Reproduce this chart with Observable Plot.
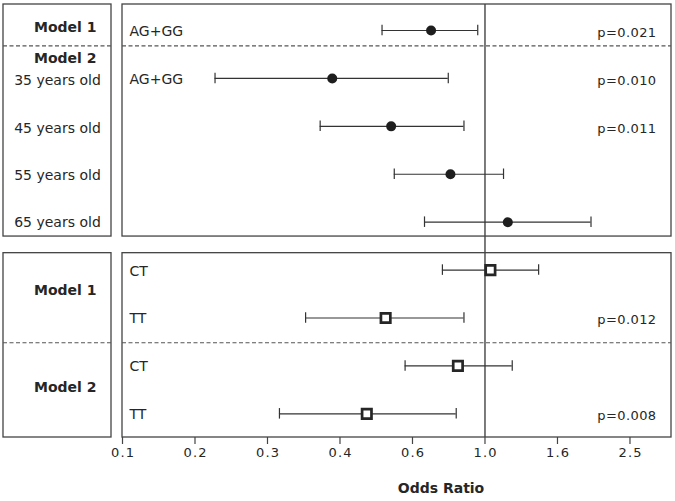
<!DOCTYPE html>
<html><head><meta charset="utf-8">
<script src="https://cdn.jsdelivr.net/npm/d3@7"></script>
<script src="https://cdn.jsdelivr.net/npm/@observablehq/plot@0.6"></script>
<style>
body{margin:0;background:#fff;}
#wrap{position:relative;width:675px;height:501px;}
#wrap svg{position:absolute;left:0;top:0;overflow:visible;}
.pval text{letter-spacing:0.4px;}
.ticklbl text{letter-spacing:1.2px;}
</style></head><body><div id="wrap"></div>
<script>
// ---- data ----
const rowLabels = ["AG+GG","AG+GG","","","","CT","TT","CT","TT"];
const oddsRatio = [0.71, 0.379, 0.551, 0.803, 1.156, 1.035, 0.532, 0.842, 0.472];
const ciLow     = [0.52, 0.180, 0.351, 0.562, 0.681, 0.763, 0.320, 0.602, 0.271];
const ciHigh    = [0.955, 0.792, 0.875, 1.125, 1.961, 1.406, 0.875, 1.189, 0.833];
const pLabels   = ["p=0.021","p=0.010","p=0.011","","","","p=0.012","","p=0.008"];
const panelOf   = ["top","top","top","top","top","bottom","bottom","bottom","bottom"];
const leftLabels = ["Model 1","Model 2","35 years old","45 years old","55 years old","65 years old","Model 1","Model 2"];
const tickLabels = ["0.1","0.2","0.3","0.4","0.6","1.0","1.6","2.5"];

// ---- layout (row units) ----
const yDomain = [-0.543, 8.494];
const panels = [{y1: -0.543, y2: 4.30}, {y1: 4.647, y2: 8.494}];
const separators = [0.32, 6.516];
const leftPos = [
  {y: -0.06, bold: true, x: 0.861},
  {y: 0.585, bold: true, x: 0.861},
  {y: 1.04, bold: false, x: 0.5},
  {y: 2.05, bold: false, x: 0.5},
  {y: 3.03, bold: false, x: 0.5},
  {y: 4.01, bold: false, x: 0.5},
  {y: 5.43, bold: true, x: 0.861},
  {y: 7.45, bold: true, x: 0.861}
];
const leftData = leftLabels.map((t, i) => ({text: t, ...leftPos[i]}));

const rows = oddsRatio.map((v, i) => ({row: i, or: v, lo: ciLow[i], hi: ciHigh[i], label: rowLabels[i], p: pLabels[i], panel: panelOf[i]}));
const xDomain = [0.1, 3.27];
const ticks = tickLabels.map((label, k) => ({value: 10 ** ((k - 5) / 5), label}));
const ink = "#262626";
const font = "DejaVu Sans, Verdana, sans-serif";
const cap = 0.11;
const tickLen = 7 / 47.9;

const right = Plot.plot({
  width: 675, height: 501,
  marginLeft: 122, marginRight: 4, marginTop: 4, marginBottom: 64,
  style: {fontFamily: font, fontSize: "14px", color: ink, background: "transparent"},
  x: {type: "log", domain: xDomain, axis: null},
  y: {domain: yDomain, reverse: true, axis: null},
  marks: [
    Plot.ruleX([1], {y1: yDomain[0], y2: yDomain[1], stroke: "#444", strokeWidth: 1.4}),
    Plot.rect(panels, {x1: xDomain[0], x2: xDomain[1], y1: "y1", y2: "y2", fill: "none", stroke: "#444", strokeWidth: 1.3}),
    Plot.ruleY(separators, {stroke: "#555", strokeWidth: 1.1, strokeDasharray: "4,2.5"}),
    Plot.ruleY(rows, {y: "row", x1: "lo", x2: "hi", stroke: "#333", strokeWidth: 1.2}),
    Plot.ruleX(rows, {x: "lo", y1: d => d.row - cap, y2: d => d.row + cap, stroke: "#333", strokeWidth: 1.2}),
    Plot.ruleX(rows, {x: "hi", y1: d => d.row - cap, y2: d => d.row + cap, stroke: "#333", strokeWidth: 1.2}),
    Plot.dot(rows.filter(d => d.panel === "top"), {x: "or", y: "row", r: 5, fill: "#1e1e1e", stroke: "none"}),
    Plot.dot(rows.filter(d => d.panel === "bottom"), {x: "or", y: "row", symbol: "square", r: 5.3, fill: "white", stroke: "#262626", strokeWidth: 2.7}),
    Plot.text(rows.filter(d => d.label), {y: "row", text: "label", frameAnchor: "left", textAnchor: "start", dx: 7, dy: 1, fontSize: 14, fill: ink}),
    Plot.text(rows.filter(d => d.p), {y: "row", text: "p", frameAnchor: "right", textAnchor: "end", dx: -15, dy: 2, fontSize: 13, fill: ink, className: "pval"}),
    // x axis: ticks and labels
    Plot.ruleX(ticks, {x: "value", y1: yDomain[1], y2: yDomain[1] + tickLen, stroke: "#444", strokeWidth: 1.2}),
    Plot.text(ticks, {x: "value", text: "label", frameAnchor: "bottom", dy: 19, dx: 0.6, fontSize: 13, fill: ink, className: "ticklbl"}),
    Plot.text(["Odds Ratio"], {frameAnchor: "bottom", dx: 44, dy: 55, fontWeight: "bold", fontSize: 14, fill: ink})
  ]
});

const left = Plot.plot({
  width: 122, height: 501,
  marginLeft: 3, marginRight: 11, marginTop: 4, marginBottom: 64,
  style: {fontFamily: font, fontSize: "14px", color: ink, background: "transparent"},
  x: {domain: [0, 1], axis: null},
  y: {domain: yDomain, reverse: true, axis: null},
  marks: [
    Plot.rect(panels, {x1: 0, x2: 1, y1: "y1", y2: "y2", fill: "none", stroke: "#444", strokeWidth: 1.3}),
    Plot.ruleY(separators, {x1: 0, x2: 1, stroke: "#555", strokeWidth: 1.1, strokeDasharray: "4,2.5"}),
    Plot.text(leftData.filter(d => d.bold), {x: "x", y: "y", text: "text", textAnchor: "end", fontWeight: "bold", fontSize: 14, fill: ink}),
    Plot.text(leftData.filter(d => !d.bold), {x: "x", y: "y", text: "text", textAnchor: "middle", fontSize: 14, fill: ink})
  ]
});

const wrap = document.getElementById("wrap");
wrap.appendChild(right);
wrap.appendChild(left);
</script></body></html>
